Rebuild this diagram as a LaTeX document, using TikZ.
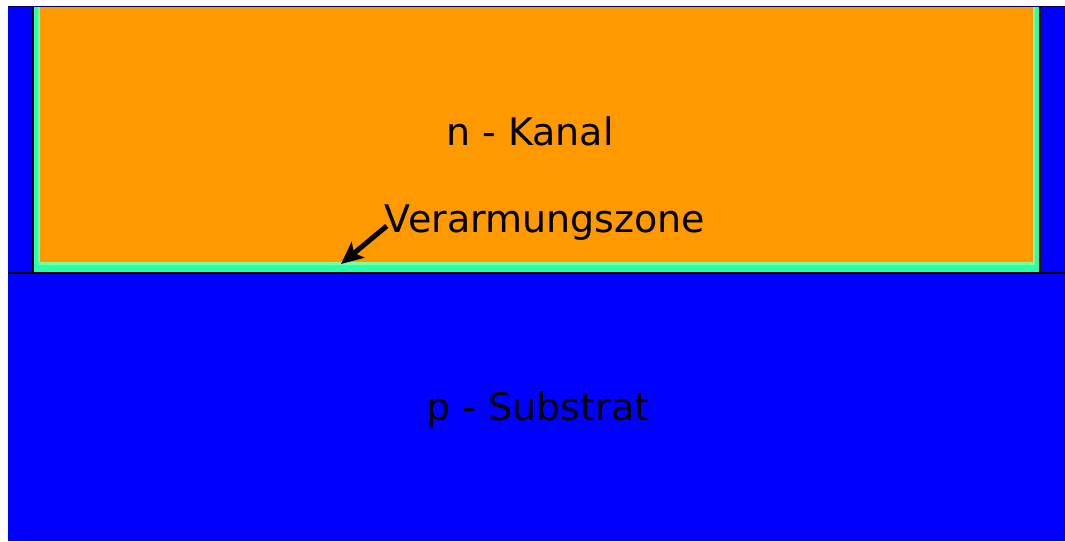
\documentclass[tikz,border=0pt]{standalone}
\usepackage{fontspec}
\setmainfont{DejaVu Sans}
\usetikzlibrary{arrows.meta}

\definecolor{substrat}{RGB}{0,0,255}
\definecolor{kanal}{RGB}{255,153,0}
\definecolor{zone}{RGB}{40,255,170}
\definecolor{zonerand}{RGB}{120,255,160}

\tikzset{
  label/.style={font=\fontsize{38}{40}\selectfont, inner sep=0pt},
}

\begin{document}
\begin{tikzpicture}[x=1pt,y=-1pt]
\useasboundingbox (0,0) rectangle (1065,541);
% substrate and channel
\fill[substrat] (8,6) rectangle (1065,541);
\fill[zone] (33,6) rectangle (1040,273);
\fill[zonerand] (38,6) rectangle (1035,264.5);
\fill[kanal] (40,7) rectangle (1033,262);
\draw[line width=1.5pt] (33,6) -- (33,273) -- (1040,273) -- (1040,6);
\draw[line width=1.5pt] (8,273) -- (1065,273);
\draw[line width=1.2pt, blue!40!black] (8,6.5) -- (1065,6.5);
% labels
\node[label] (kanal) at (530,131) {n - Kanal};
\node[label] (zone) at (545,223) {Verarmungszone};
\node[label] (sub) at (538,410) {p - Substrat};
\coordinate (tip) at (341,264);
\draw[line width=5pt, -{Stealth[length=22pt,width=20pt,inset=5pt]}] ([shift={(2pt,-3pt)}]zone.west) -- (tip);
\end{tikzpicture}
\end{document}
